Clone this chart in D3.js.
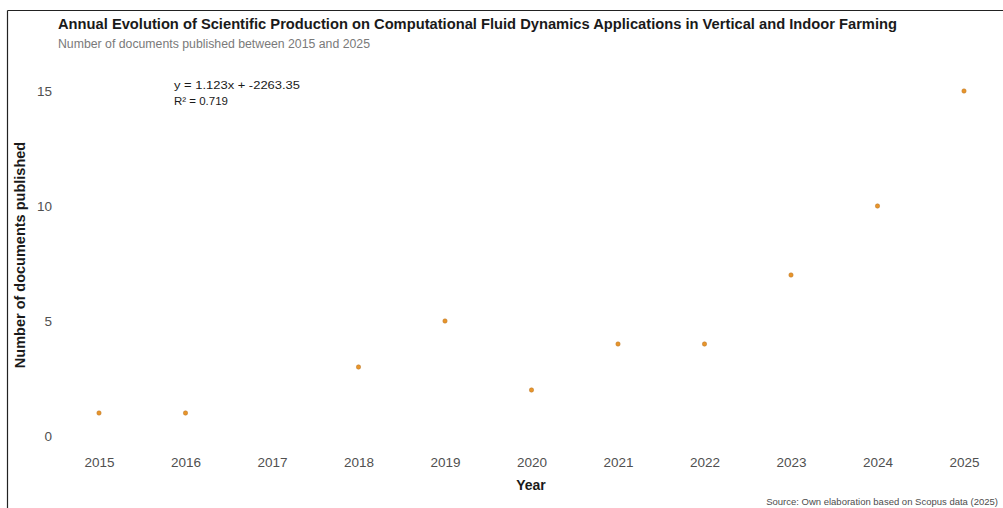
<!DOCTYPE html>
<html>
<head>
<meta charset="utf-8">
<script src="https://cdn.jsdelivr.net/npm/d3@7"></script>
<style>
  html, body { margin: 0; padding: 0; background: #fff; }
  svg { display: block; font-family: "Liberation Sans", Arial, sans-serif; }
</style>
</head>
<body>
<svg id="chart" width="1003" height="508"></svg>
<script>
// Documents published per year (2017 had none recorded in the series)
const years = [2015, 2016, 2018, 2019, 2020, 2021, 2022, 2023, 2024, 2025];
const documents = [1, 1, 3, 5, 2, 4, 4, 7, 10, 15];
const xTickYears = [2015, 2016, 2017, 2018, 2019, 2020, 2021, 2022, 2023, 2024, 2025];
const yTickValues = [0, 5, 10, 15];

const titleText = "Annual Evolution of Scientific Production on Computational Fluid Dynamics Applications in Vertical and Indoor Farming";
const subtitleText = "Number of documents published between 2015 and 2025";
const equationLines = ["y = 1.123x + -2263.35", "R\u00b2 = 0.719"];
const sourceText = "Source: Own elaboration based on Scopus data (2025)";

const svg = d3.select("#chart");
const W = 1003, H = 508;

// frame lines along the top and left edge
svg.append("line").attr("x1", 7.5).attr("x2", W).attr("y1", 10.5).attr("y2", 10.5)
  .attr("stroke", "#222").attr("stroke-width", 1.2);
svg.append("line").attr("x1", 7.5).attr("x2", 7.5).attr("y1", 10.5).attr("y2", H)
  .attr("stroke", "#222").attr("stroke-width", 1.2);

const x = d3.scaleLinear().domain([2015, 2025]).range([99, 964]);
const y = d3.scaleLinear().domain([0, 15]).range([436, 91]);

// x axis labels
const xAxis = d3.axisBottom(x).tickValues(xTickYears).tickFormat(d3.format("d")).tickSize(0).tickPadding(0);
const gx = svg.append("g").attr("transform", "translate(0,457)").call(xAxis);
gx.select(".domain").remove();
gx.selectAll("text").attr("fill", "#505050").attr("font-size", 13.5).attr("font-family", "Liberation Sans, Arial, sans-serif");

// y axis labels
const yAxis = d3.axisLeft(y).tickValues(yTickValues).tickSize(0).tickPadding(0);
const gy = svg.append("g").attr("transform", "translate(52,0)").call(yAxis);
gy.select(".domain").remove();
gy.selectAll("text").attr("fill", "#505050").attr("font-size", 13.5).attr("font-family", "Liberation Sans, Arial, sans-serif");

// points
svg.append("g").selectAll("circle")
  .data(years.map((yr, i) => ({ yr, v: documents[i] })))
  .join("circle")
  .attr("cx", d => x(d.yr))
  .attr("cy", d => y(d.v))
  .attr("r", 2.2)
  .attr("fill", "#e8952a")
  .attr("stroke", "#b8762a")
  .attr("stroke-width", 0.5);

// titles
svg.append("text").attr("x", 58).attr("y", 29).attr("font-size", 14.3).attr("font-weight", "bold")
  .attr("fill", "#1a1a1a").attr("textLength", 839).attr("lengthAdjust", "spacingAndGlyphs").text(titleText);
svg.append("text").attr("x", 58).attr("y", 48).attr("font-size", 12.3).attr("fill", "#7a7a7a")
  .attr("textLength", 312).attr("lengthAdjust", "spacingAndGlyphs").text(subtitleText);

// regression annotation
const eqLengths = [126, 54];
svg.append("g").selectAll("text").data(equationLines).join("text")
  .attr("x", 174).attr("y", (d, i) => 89 + i * 16)
  .attr("font-size", 11.5).attr("fill", "#1a1a1a")
  .attr("textLength", (d, i) => eqLengths[i]).attr("lengthAdjust", "spacingAndGlyphs")
  .text(d => d);

// axis titles
svg.append("text").attr("x", 531).attr("y", 490).attr("text-anchor", "middle")
  .attr("font-size", 14).attr("font-weight", "bold").attr("fill", "#1a1a1a").text("Year");
svg.append("text").attr("transform", "translate(25,255) rotate(-90)").attr("text-anchor", "middle")
  .attr("font-size", 14.5).attr("font-weight", "bold").attr("fill", "#1a1a1a").text("Number of documents published");

// source caption, right-aligned inside the frame
svg.append("text").attr("x", 998).attr("y", 505).attr("text-anchor", "end")
  .attr("font-size", 9.5).attr("fill", "#4d4d4d").text(sourceText);
</script>
</body>
</html>
